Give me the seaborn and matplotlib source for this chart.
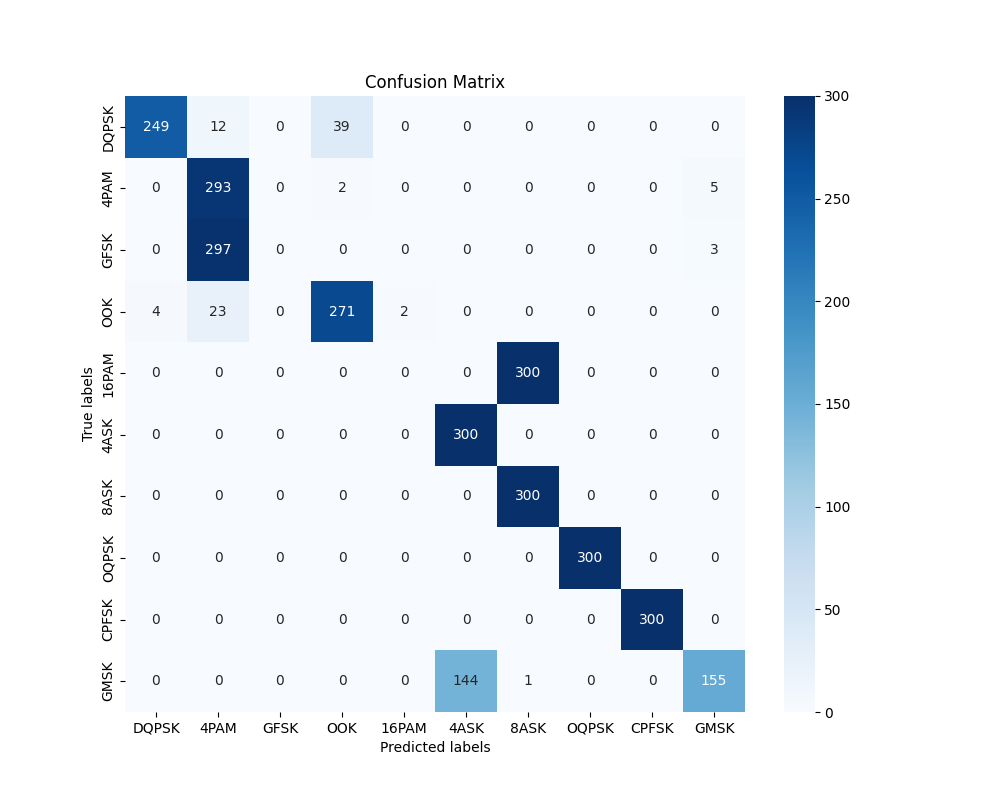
import matplotlib
matplotlib.use("Agg")
import matplotlib.pyplot as plt
import seaborn as sns
import numpy as np

labels = ["DQPSK", "4PAM", "GFSK", "OOK", "16PAM", "4ASK", "8ASK", "OQPSK", "CPFSK", "GMSK"]

row_dqpsk = [249, 12, 0, 39, 0, 0, 0, 0, 0, 0]
row_4pam = [0, 293, 0, 2, 0, 0, 0, 0, 0, 5]
row_gfsk = [0, 297, 0, 0, 0, 0, 0, 0, 0, 3]
row_ook = [4, 23, 0, 271, 2, 0, 0, 0, 0, 0]
row_16pam = [0, 0, 0, 0, 0, 0, 300, 0, 0, 0]
row_4ask = [0, 0, 0, 0, 0, 300, 0, 0, 0, 0]
row_8ask = [0, 0, 0, 0, 0, 0, 300, 0, 0, 0]
row_oqpsk = [0, 0, 0, 0, 0, 0, 0, 300, 0, 0]
row_cpfsk = [0, 0, 0, 0, 0, 0, 0, 0, 300, 0]
row_gmsk = [0, 0, 0, 0, 0, 144, 1, 0, 0, 155]

cm = np.array([row_dqpsk, row_4pam, row_gfsk, row_ook, row_16pam,
               row_4ask, row_8ask, row_oqpsk, row_cpfsk, row_gmsk])

fig, ax = plt.subplots(figsize=(10, 8))
sns.heatmap(cm, annot=True, fmt="d", cmap="Blues",
            xticklabels=labels, yticklabels=labels, ax=ax)
ax.set_xlabel("Predicted labels")
ax.set_ylabel("True labels")
ax.set_title("Confusion Matrix")

plt.savefig("out.png", dpi=100)
